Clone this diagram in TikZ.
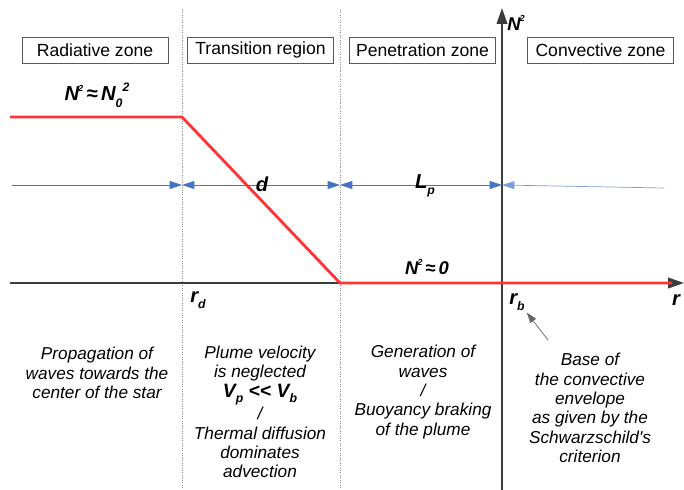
\documentclass[tikz,border=0pt]{standalone}
\usepackage{fontspec}
\setmainfont{Liberation Sans}
\usetikzlibrary{arrows.meta,positioning}
\definecolor{dimblue}{RGB}{68,114,196}
\definecolor{curvered}{RGB}{255,51,51}
\definecolor{axisgray}{RGB}{60,60,60}
\newcommand{\bisub}[2]{#1\raisebox{-0.55ex}{\scriptsize #2}}
\newcommand{\bisup}[2]{#1\kern-0.5pt\raisebox{0.85ex}{\tiny #2}}

\begin{document}
\begin{tikzpicture}[
  x=0.02cm, y=-0.02cm,
  zone/.style={draw=black!65, thin, minimum width=2.92cm, minimum height=0.52cm, inner sep=1pt, font=\fontsize{10}{12}\selectfont},
  sep/.style={draw=black!45, densely dotted, thin},
  axis/.style={draw=axisgray, line width=1pt, -{Triangle[length=9pt, width=6pt]}},
  curve/.style={draw=curvered, line width=1.6pt},
  dim/.style={draw=dimblue, thin, >={Triangle[length=7pt, width=4.5pt]}},
  lbl/.style={font=\fontsize{11.5}{13}\selectfont\bfseries\itshape, inner sep=1pt},
  note/.style={align=center, font=\fontsize{9.8}{11}\selectfont\itshape}
]
\useasboundingbox (0,0) rectangle (684,490);

% zone headers
\node[zone] (radbox)  at (95,50)    {Radiative zone};
\node[zone] (trbox)   at (260.5,50) {Transition region};
\node[zone] (penbox)  at (422.5,50) {Penetration zone};
\node[zone] (convbox) at (600.5,50) {Convective zone};

% separations
\coordinate (rdtop) at (182,10);
\coordinate (rdbot) at (182,490);
\coordinate (s2top) at (340,10);
\coordinate (s2bot) at (340,490);
\draw[sep] (rdtop) -- (rdbot);
\draw[sep] (s2top) -- (s2bot);

% axes
\coordinate (xstart) at (10,283);
\coordinate (xend)   at (684,283);
\coordinate (ystart) at (502,490);
\coordinate (yend)   at (502,8);
\draw[axis] (xstart) -- (xend);
\draw[axis] (ystart) -- (yend);

% N^2 profile
\coordinate (p0) at (10,117);
\coordinate (p1) at (182,117);
\coordinate (p2) at (340,283);
\coordinate (p3) at (672,283);
\draw[curve] (p0) -- (p1) -- (p2) -- (p3);

% widths
\coordinate (dl) at (12,185);
\coordinate (d1) at (182,185);
\coordinate (d2) at (340,185);
\coordinate (d3) at (502,185);
\coordinate (dr) at (664,188);
\draw[dim, ->] (dl) -- (d1);
\draw[dim, <->] (d1) -- (d2);
\draw[dim, <->] (d2) -- (d3);
\draw[dim, <-, draw=dimblue!70] (d3) -- (dr);

% labels
\node[lbl] (n0) at (97,95) {\bisup{N}{2}\,≈\,N\raisebox{-0.6ex}{\scriptsize 0}\raisebox{0.9ex}{\scriptsize 2}};
\node[lbl] (dlab) at (262,184) {d};
\node[lbl] (lp) at (425,186) {\bisub{L}{p}};
\node[lbl, font=\fontsize{10.5}{12}\selectfont\bfseries\itshape] (nzero) at (427,267) {\bisup{N}{2}\,≈\,0};
\node[lbl] (rd) at (198,300) {\bisub{r}{d}};
\node[lbl] (rb) at (517,302) {\bisub{r}{b}};
\node[lbl] (rlab) at (676,300) {r};
\node[lbl, font=\fontsize{10.5}{12}\selectfont\bfseries\itshape] (nsq) at (516,23) {\bisup{N}{2}};

% pointer to the base
\coordinate (ptail) at (548,340);
\draw[draw=black!60, thin, -{Triangle[length=6pt, width=4pt]}] (ptail) -- (rb.south east);

% descriptions
\node[note] (radtxt) at (97,373) {Propagation of\\waves towards the\\center of the star};
\node[note] (trtxt) at (260,412) {Plume velocity\\is neglected\\{\bfseries\fontsize{11}{11}\selectfont \bisub{V}{p} {<}{<} \bisub{V}{b}}\\/\\Thermal diffusion\\dominates\\advection};
\node[note] (pentxt) at (423,392) {Generation of\\waves\\/\\Buoyancy braking\\of the plume};
\node[note] (convtxt) at (590,408) {Base of\\the convective\\envelope\\as given by the\\Schwarzschild\textquotesingle s\\criterion};
\end{tikzpicture}
\end{document}
